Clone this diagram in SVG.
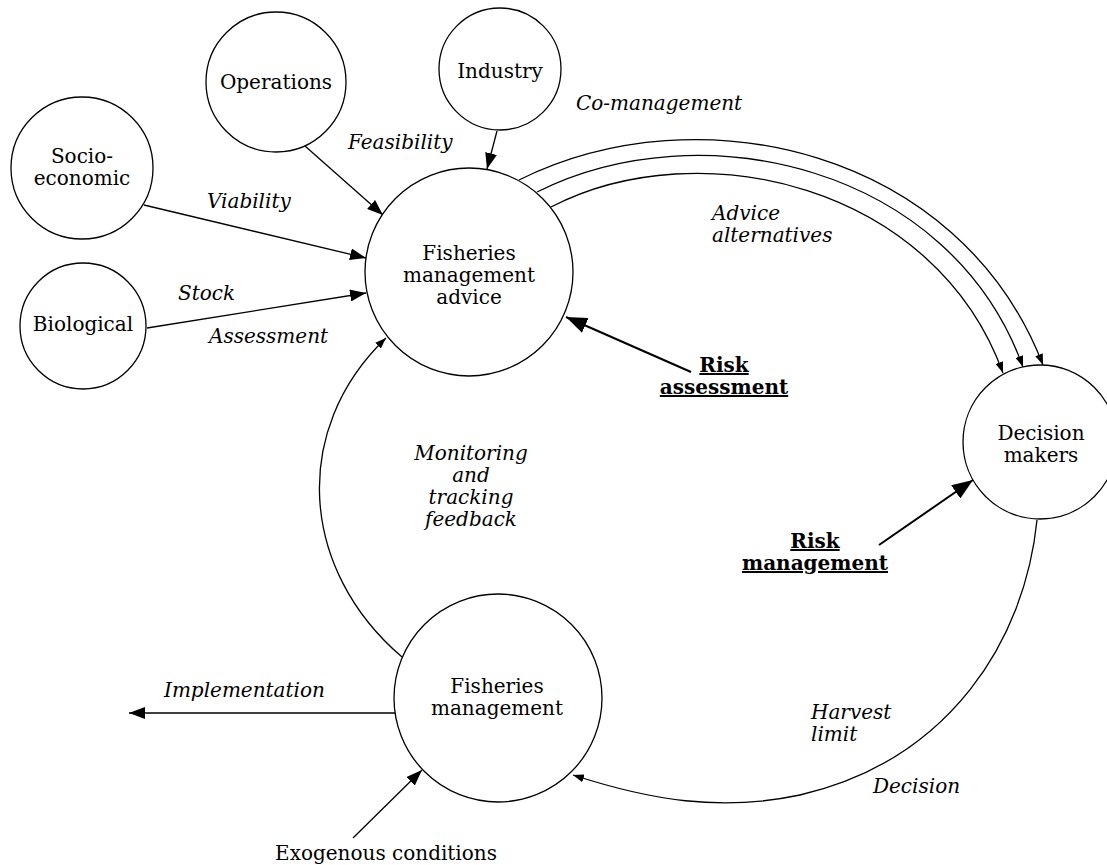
<svg xmlns="http://www.w3.org/2000/svg" width="1107" height="865" viewBox="0 0 1107 865">
<defs>
<style>
.node{fill:#fff;stroke:#000;stroke-width:1.3}
.lbl{font-family:"DejaVu Serif","Liberation Serif",serif;font-size:20px;fill:#000;text-anchor:middle}
.it{font-family:"DejaVu Serif","Liberation Serif",serif;font-size:20px;font-style:italic;fill:#000}
.risk{font-family:"DejaVu Serif","Liberation Serif",serif;font-size:20px;font-weight:bold;fill:#000;text-anchor:middle;text-decoration:underline}
.ln{fill:none;stroke:#000;stroke-width:1.3}
.lnb{fill:none;stroke:#000;stroke-width:2}
</style>
<marker id="ah" viewBox="0 0 16 12" refX="16" refY="6" markerWidth="16" markerHeight="12" markerUnits="userSpaceOnUse" orient="auto"><path d="M0,0 L16,6 L0,12 z" fill="#000"/></marker>
<marker id="ahs" viewBox="0 0 11 8" refX="11" refY="4" markerWidth="11" markerHeight="8" markerUnits="userSpaceOnUse" orient="auto"><path d="M0,0 L11,4 L0,8 z" fill="#000"/></marker>
<marker id="ahl" viewBox="0 0 21 16" refX="21" refY="8" markerWidth="21" markerHeight="16" markerUnits="userSpaceOnUse" orient="auto"><path d="M0,0 L21,8 L0,16 z" fill="#000"/></marker>
</defs>
<rect width="1107" height="865" fill="#fff"/>

<g id="connectors">
<line class="ln" x1="305" y1="146" x2="383" y2="215" marker-end="url(#ah)"/>
<line class="ln" x1="497" y1="131" x2="487" y2="169" marker-end="url(#ah)"/>
<line class="ln" x1="144" y1="205" x2="366" y2="258" marker-end="url(#ah)"/>
<line class="ln" x1="147" y1="328" x2="366" y2="293" marker-end="url(#ah)"/>
<path class="ln" d="M519,180 C700,90 960,150 1043,365" marker-end="url(#ahs)"/>
<path class="ln" d="M537,192 C700,110 950,165 1023,367" marker-end="url(#ahs)"/>
<path class="ln" d="M551,207 C700,130 935,185 1003,373" marker-end="url(#ahs)"/>
<line class="lnb" x1="691" y1="372" x2="566" y2="317" marker-end="url(#ahl)"/>
<line class="lnb" x1="879" y1="545" x2="973" y2="480" marker-end="url(#ahl)"/>
<path class="ln" d="M1037,520 C1025,640 950,760 800,795 C720,812 650,800 573,775" marker-end="url(#ahs)"/>
<path class="ln" d="M402,657 C300,570 290,430 386,338" marker-end="url(#ahs)"/>
<line class="ln" x1="395" y1="713" x2="129" y2="713" marker-end="url(#ah)"/>
<line class="ln" x1="353" y1="838" x2="422" y2="770" marker-end="url(#ah)"/>
</g>

<g id="node-socio"><circle class="node" cx="82" cy="168" r="71"/><text class="lbl" x="82" y="163">Socio-</text><text class="lbl" x="82" y="185">economic</text></g>
<g id="node-operations"><circle class="node" cx="276" cy="82" r="70"/><text class="lbl" x="276" y="89">Operations</text></g>
<g id="node-industry"><circle class="node" cx="500" cy="69" r="61"/><text class="lbl" x="500" y="78">Industry</text></g>
<g id="node-biological"><circle class="node" cx="83" cy="326" r="63"/><text class="lbl" x="83" y="331">Biological</text></g>
<g id="node-fma"><circle class="node" cx="469" cy="272" r="104"/><text class="lbl" x="469" y="260">Fisheries</text><text class="lbl" x="469" y="282">management</text><text class="lbl" x="469" y="304">advice</text></g>
<g id="node-decision"><circle class="node" cx="1040" cy="442" r="77"/><text class="lbl" x="1041" y="440">Decision</text><text class="lbl" x="1041" y="462">makers</text></g>
<g id="node-fm"><circle class="node" cx="498" cy="698" r="104"/><text class="lbl" x="497" y="693">Fisheries</text><text class="lbl" x="497" y="715">management</text></g>

<g id="labels">
<text class="it" x="348" y="149">Feasibility</text>
<text class="it" x="576" y="110">Co-management</text>
<text class="it" x="207" y="208">Viability</text>
<text class="it" x="178" y="300">Stock</text>
<text class="it" x="209" y="343">Assessment</text>
<text class="it" x="712" y="220">Advice</text>
<text class="it" x="712" y="242">alternatives</text>
<text class="risk" x="724" y="372">Risk</text>
<text class="risk" x="724" y="394">assessment</text>
<text class="risk" x="815" y="548">Risk</text>
<text class="risk" x="815" y="570">management</text>
<text class="it" x="471" y="460" text-anchor="middle">Monitoring</text>
<text class="it" x="471" y="482" text-anchor="middle">and</text>
<text class="it" x="471" y="504" text-anchor="middle">tracking</text>
<text class="it" x="471" y="526" text-anchor="middle">feedback</text>
<text class="it" x="164" y="697">Implementation</text>
<text class="it" x="811" y="719">Harvest</text>
<text class="it" x="811" y="741">limit</text>
<text class="it" x="873" y="793">Decision</text>
<text class="lbl" x="386" y="860">Exogenous conditions</text>
</g>
</svg>
